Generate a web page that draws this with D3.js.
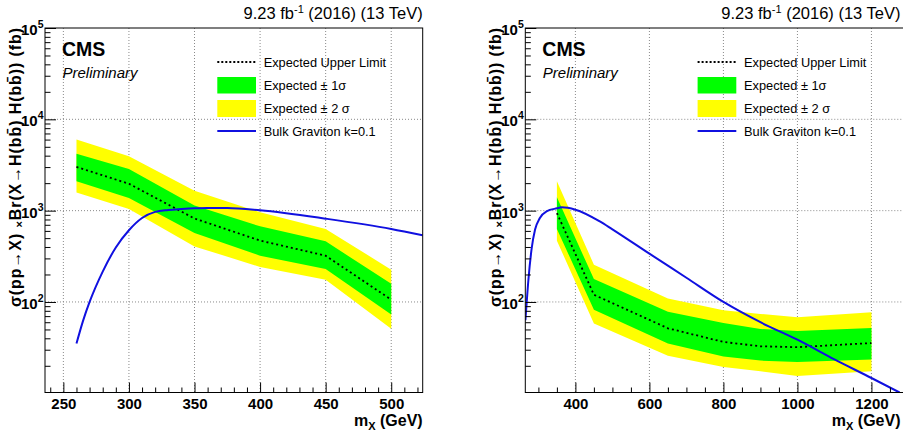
<!DOCTYPE html>
<html>
<head>
<meta charset="utf-8">
<script src="https://cdn.jsdelivr.net/npm/d3@7"></script>
<style>
body { margin: 0; background: #fff; }
svg { display: block; font-family: "Liberation Sans", Arial, sans-serif; }
</style>
</head>
<body>
<script>
// left panel: low mass limits (fb)
var massL = [260, 300, 350, 400, 450, 500];
var expL  = [3010, 1970, 820, 470, 321, 106];
var p1L   = [4210, 2862, 1135, 673, 461, 158];
var m1L   = [2094, 1377, 570, 321, 230, 73];
var p2L   = [6000, 3935, 1656, 958, 630, 226];
var m2L   = [1585, 1044, 406, 242, 175, 51];

var gravMassL = [260, 265, 270, 280, 290, 300, 310, 320, 330, 340, 350, 360, 375, 400, 450, 500, 524];
var gravL     = [35, 62, 100, 215, 395, 610, 830, 970, 1015, 1040, 1060, 1070, 1068, 1008, 817, 630, 536];

// right panel: high mass limits (fb)
var massR = [350, 450, 650, 800, 900, 1000, 1200];
var expR  = [940, 120, 51.5, 36.5, 32.7, 32, 35.5];
var p1R   = [1400, 178, 78, 59, 50.6, 48, 52];
var m1R   = [630, 82, 35, 25.3, 22.8, 22, 23.4];
var p2R   = [2100, 256, 109, 81, 74, 68, 77];
var m2R   = [469, 58, 25.7, 19.4, 17.4, 15.5, 17.4];

var gravMassR = [265, 273, 282, 291, 304, 322, 350, 363, 400, 466, 500, 600, 700, 800, 900, 1000, 1100, 1200, 1276];
var gravR     = [63, 175, 390, 620, 832, 984, 1060, 1087, 1025, 763, 625, 338, 184, 100, 60, 38.6, 23.5, 14.7, 10.2];

var yTicks = [1e2, 1e3, 1e4, 1e5];
var yTickExp = ["2", "3", "4", "5"];
var legendLabels = ["Expected Upper Limit", "Expected \u00b1 1\u03c3", "Expected \u00b1 2 \u03c3", "Bulk Graviton k=0.1"];
var lumiText = "9.23 fb";
var lumiRest = " (2016) (13 TeV)";

var yTop = 28, yBot = 392.5;

var svg = d3.select("body").append("svg")
    .attr("width", 903)
    .attr("height", 435);

var y = d3.scaleLog().domain([10.2, 1e5]).range([yBot, yTop]);

function drawPanel(p) {
  var x = d3.scaleLinear().domain(p.xDomain).range([p.x0, p.x1]);
  var g = svg.append("g");

  var clipId = "clip" + p.id;
  svg.append("clipPath").attr("id", clipId)
    .append("rect")
      .attr("x", p.x0).attr("y", yTop)
      .attr("width", p.x1 - p.x0).attr("height", yBot - yTop);

  // grid
  g.selectAll(".gx").data(p.majors).enter().append("line")
    .attr("x1", function(d) { return x(d); }).attr("x2", function(d) { return x(d); })
    .attr("y1", yTop).attr("y2", yBot)
    .attr("stroke", "#8a8a8a").attr("stroke-dasharray", "1,2");
  g.selectAll(".gy").data(yTicks.slice(0, 3)).enter().append("line")
    .attr("x1", p.x0).attr("x2", p.x1)
    .attr("y1", function(d) { return y(d); }).attr("y2", function(d) { return y(d); })
    .attr("stroke", "#8a8a8a").attr("stroke-dasharray", "1,2");

  var plot = g.append("g").attr("clip-path", "url(#" + clipId + ")");

  var idx = d3.range(p.mass.length);
  var band = function(lo, hi) {
    return d3.area()
      .x(function(i) { return x(p.mass[i]); })
      .y0(function(i) { return y(lo[i]); })
      .y1(function(i) { return y(hi[i]); });
  };
  plot.append("path").attr("d", band(p.m2, p.p2)(idx)).attr("fill", "#ffff00");
  plot.append("path").attr("d", band(p.m1, p.p1)(idx)).attr("fill", "#00ff00");
  plot.append("path")
    .attr("d", d3.line().x(function(i) { return x(p.mass[i]); }).y(function(i) { return y(p.exp[i]); })(idx))
    .attr("fill", "none").attr("stroke", "#000").attr("stroke-width", 1.8)
    .attr("stroke-dasharray", "2,3");

  var gIdx = d3.range(p.gMass.length);
  plot.append("path")
    .attr("d", d3.line().curve(d3.curveMonotoneX)
      .x(function(i) { return x(p.gMass[i]); })
      .y(function(i) { return y(p.gVal[i]); })(gIdx))
    .attr("fill", "none").attr("stroke", "#1010e0").attr("stroke-width", 2);

  // axes
  var xAxis = g.append("g").attr("transform", "translate(0," + yBot + ")")
    .call(d3.axisBottom(x).tickValues(p.majors).tickSizeInner(-10).tickSizeOuter(0).tickPadding(6)
      .tickFormat(d3.format("d")));
  g.append("g").attr("transform", "translate(0," + yBot + ")")
    .call(d3.axisBottom(x).tickValues(p.minors).tickSizeInner(-5).tickSizeOuter(0).tickFormat(""));
  xAxis.selectAll("text").attr("font-size", 15).attr("font-weight", "bold")
    .attr("font-family", "Liberation Sans, Arial, sans-serif").attr("fill", "#000");

  var yMinor = [];
  [10, 100, 1000, 10000].forEach(function(dec) {
    for (var k = 2; k <= 9; k++) { if (k * dec > 10.2) yMinor.push(k * dec); }
  });
  var yAxis = g.append("g").attr("transform", "translate(" + p.x0 + ",0)")
    .call(d3.axisLeft(y).tickValues(yTicks).tickSizeInner(-11).tickSizeOuter(0).tickFormat(""));
  g.append("g").attr("transform", "translate(" + p.x0 + ",0)")
    .call(d3.axisLeft(y).tickValues(yMinor).tickSizeInner(-5.5).tickSizeOuter(0).tickFormat(""));
  g.selectAll(".domain").remove();

  yAxis.selectAll(".tick").each(function(d, i) {
    var t = d3.select(this).append("text")
      .attr("x", -1.5).attr("y", 6.5)
      .attr("text-anchor", "end")
      .attr("font-size", 15).attr("font-weight", "bold")
      .attr("font-family", "Liberation Sans, Arial, sans-serif")
      .attr("fill", "#000");
    t.append("tspan").text("10");
    t.append("tspan").attr("dy", -7).attr("font-size", 10.5).text(yTickExp[i]);
  });

  // frame
  g.append("rect")
    .attr("x", p.x0).attr("y", yTop)
    .attr("width", p.x1 - p.x0).attr("height", yBot - yTop)
    .attr("fill", "none").attr("stroke", "#000").attr("stroke-width", 1);

  // axis titles
  var xt = g.append("text")
    .attr("x", p.textRight).attr("y", 425.5)
    .attr("text-anchor", "end")
    .attr("font-size", 16).attr("font-weight", "bold");
  xt.append("tspan").text("m");
  xt.append("tspan").attr("dy", 4).attr("font-size", 11).text("X");
  xt.append("tspan").attr("dy", -4).text(" (GeV)");

  var yt = g.append("text")
    .attr("transform", "translate(" + (p.x0 - 24) + "," + yTop + ") rotate(-90)")
    .attr("text-anchor", "end")
    .attr("font-size", 16).attr("font-weight", "bold")
    .attr("textLength", 279).attr("lengthAdjust", "spacing");
  yt.append("tspan").text("\u03c3(pp\u2192X) ");
  yt.append("tspan").attr("font-size", 11).attr("dy", 2).text("\u00d7");
  yt.append("tspan").attr("dy", -2).text("Br(X\u2192H(bb\u0304) H(bb\u0304)) (fb)");

  // lumi label
  var lt = g.append("text")
    .attr("x", p.textRight).attr("y", 18.5)
    .attr("text-anchor", "end")
    .attr("font-size", 16.5);
  lt.append("tspan").text(lumiText);
  lt.append("tspan").attr("dy", -6).attr("font-size", 11).text("-1");
  lt.append("tspan").attr("dy", 6).text(lumiRest);

  // CMS labels
  g.append("text").attr("x", p.x0 + 17).attr("y", 56)
    .attr("font-size", 19.5).attr("font-weight", "bold").text("CMS");
  g.append("text").attr("x", p.x0 + 17.5).attr("y", 78)
    .attr("font-size", 15).attr("font-style", "italic").text("Preliminary");

  // legend
  var lx = p.x0 + 172.3, lw = 38.7, tx = p.x0 + 218.7;
  var ly = [62, 85, 108.5, 131];
  g.append("line").attr("x1", lx).attr("x2", lx + lw).attr("y1", ly[0]).attr("y2", ly[0])
    .attr("stroke", "#000").attr("stroke-width", 1.8).attr("stroke-dasharray", "2,2");
  g.append("rect").attr("x", lx).attr("y", ly[1] - 8).attr("width", lw).attr("height", 16.5).attr("fill", "#00ff00");
  g.append("rect").attr("x", lx).attr("y", ly[2] - 8.5).attr("width", lw).attr("height", 17).attr("fill", "#ffff00");
  g.append("line").attr("x1", lx).attr("x2", lx + lw).attr("y1", ly[3]).attr("y2", ly[3])
    .attr("stroke", "#1010e0").attr("stroke-width", 2);
  g.selectAll(".leg").data(legendLabels).enter().append("text")
    .attr("x", tx).attr("y", function(d, i) { return ly[i] + 4.6; })
    .attr("font-size", 12.8).text(function(d) { return d; });
}

drawPanel({
  id: "L", x0: 45, x1: 422.7, xDomain: [236, 524], textRight: 422.7,
  majors: [250, 300, 350, 400, 450, 500],
  minors: d3.range(240, 521, 10).filter(function(v) { return v % 50 !== 0; }),
  mass: massL, exp: expL, p1: p1L, m1: m1L, p2: p2L, m2: m2L,
  gMass: gravMassL, gVal: gravL
});

drawPanel({
  id: "R", x0: 525.3, x1: 904, xDomain: [264.6, 1288], textRight: 900.5,
  majors: [400, 600, 800, 1000, 1200],
  minors: d3.range(300, 1251, 50).filter(function(v) { return v % 200 !== 0; }),
  mass: massR, exp: expR, p1: p1R, m1: m1R, p2: p2R, m2: m2R,
  gMass: gravMassR, gVal: gravR
});
</script>
</body>
</html>
